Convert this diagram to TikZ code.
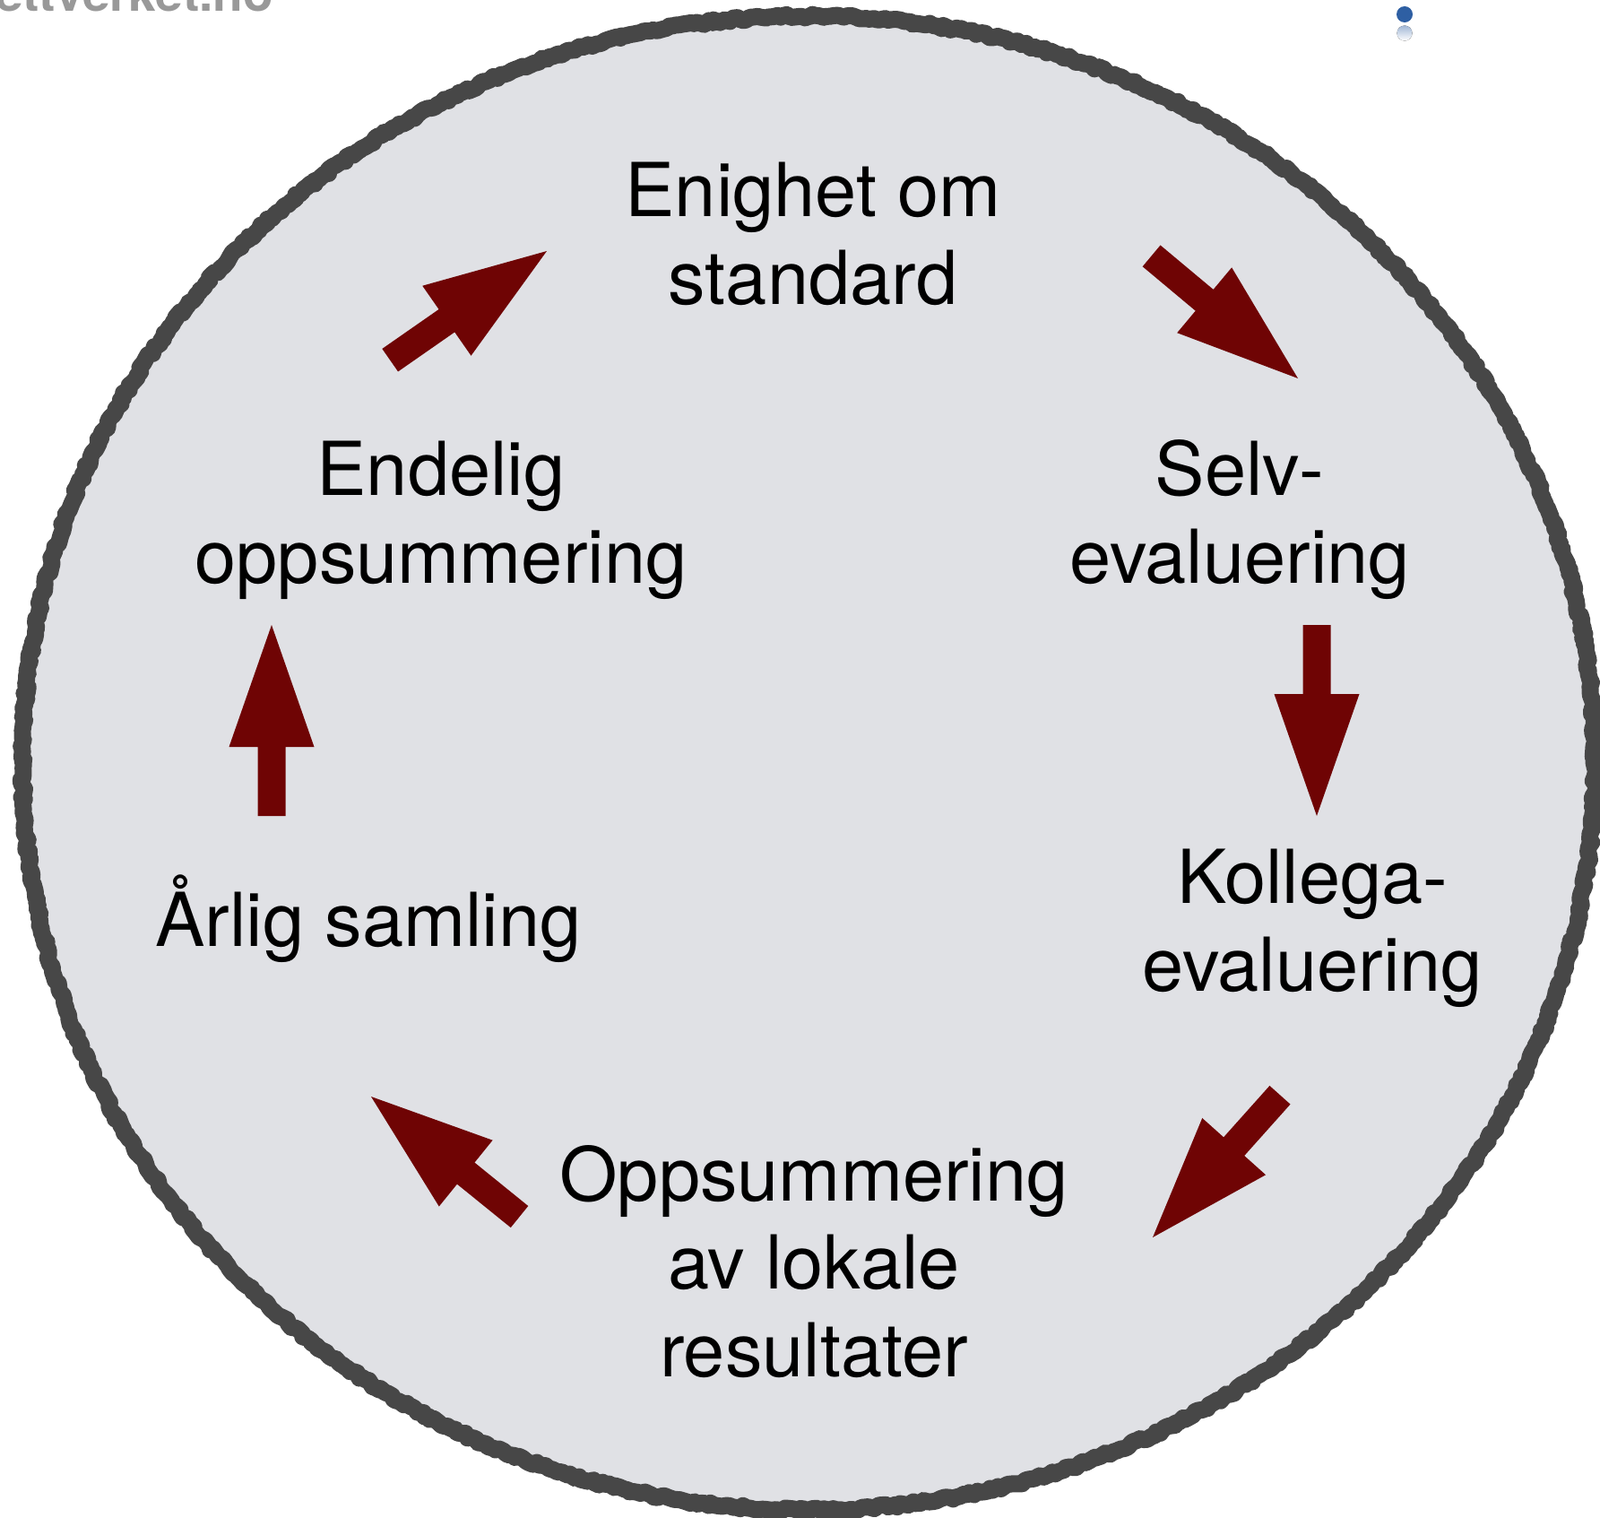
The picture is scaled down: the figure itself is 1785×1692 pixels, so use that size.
\documentclass[tikz,border=0pt]{standalone}
\usepackage{fontspec}
\setmainfont{TeX Gyre Heros}
\usetikzlibrary{decorations.pathmorphing}
\definecolor{arrowred}{HTML}{6F0404}
\definecolor{discfill}{HTML}{E0E1E5}
\definecolor{discline}{HTML}{474747}
\definecolor{dotblue}{HTML}{2E5FA3}
\definecolor{markgray}{HTML}{999999}
\tikzset{
  stagelabel/.style={align=center, anchor=base, inner sep=0pt, text=black,
    font=\fontsize{83}{98}\selectfont},
  pics/blockarrow/.style={code={
    \fill[arrowred] (0,0) -- (-136,47.5) -- (-136,15.5) -- (-213,15.5)
      -- (-213,-15.5) -- (-136,-15.5) -- (-136,-47.5) -- cycle;}}
}
\begin{document}
\begin{tikzpicture}[x=1pt,y=-1pt]
\useasboundingbox (0,0) rectangle (1785,1692);
\clip (0,0) rectangle (1785,1692);
\fill[white] (0,0) rectangle (1785,1692);
% disc
\fill[discfill] (902,851) ellipse [x radius=877, y radius=833];
\draw[discline, line width=19pt, line join=round,
  decorate, decoration={random steps, segment length=4pt, amplitude=2pt}]
  (902,851) ellipse [x radius=877, y radius=833];
% watermark and dot
\node[anchor=base east, inner sep=0pt, text=markgray,
  font=\fontsize{55}{60}\selectfont\bfseries] (mark) at (305,12) {ettverket.no};
\fill[dotblue] (1567,16) circle [radius=9];
\fill[top color=dotblue!45, bottom color=white] (1567,37) circle [radius=8.5];
% labels (anchor = baseline of last line)
\node[stagelabel] (enighet) at (907,339) {Enighet om\\standard};
\node[stagelabel] (selv) at (1383,650) {Selv-\\evaluering};
\node[stagelabel] (kollega) at (1464,1105) {Kollega-\\evaluering};
\node[stagelabel] (oppsum) at (908,1535) {Oppsummering\\av lokale\\resultater};
\node[stagelabel] (arlig) at (411,1055) {Årlig samling};
\node[stagelabel] (endelig) at (492,650) {Endelig\\oppsummering};
% arrows
\coordinate (tipA) at (610,280);
\coordinate (tipB) at (1448,422);
\coordinate (tipC) at (1469,910);
\coordinate (tipD) at (1286,1380);
\coordinate (tipE) at (414,1223);
\coordinate (tipF) at (303,697);
\pic[rotate=34.85] at (tipA) {blockarrow};
\pic[rotate=-39.9] at (tipB) {blockarrow};
\pic[rotate=-90] at (tipC) {blockarrow};
\pic[rotate=-131.8] at (tipD) {blockarrow};
\pic[rotate=141.0] at (tipE) {blockarrow};
\pic[rotate=90] at (tipF) {blockarrow};
\end{tikzpicture}
\end{document}
